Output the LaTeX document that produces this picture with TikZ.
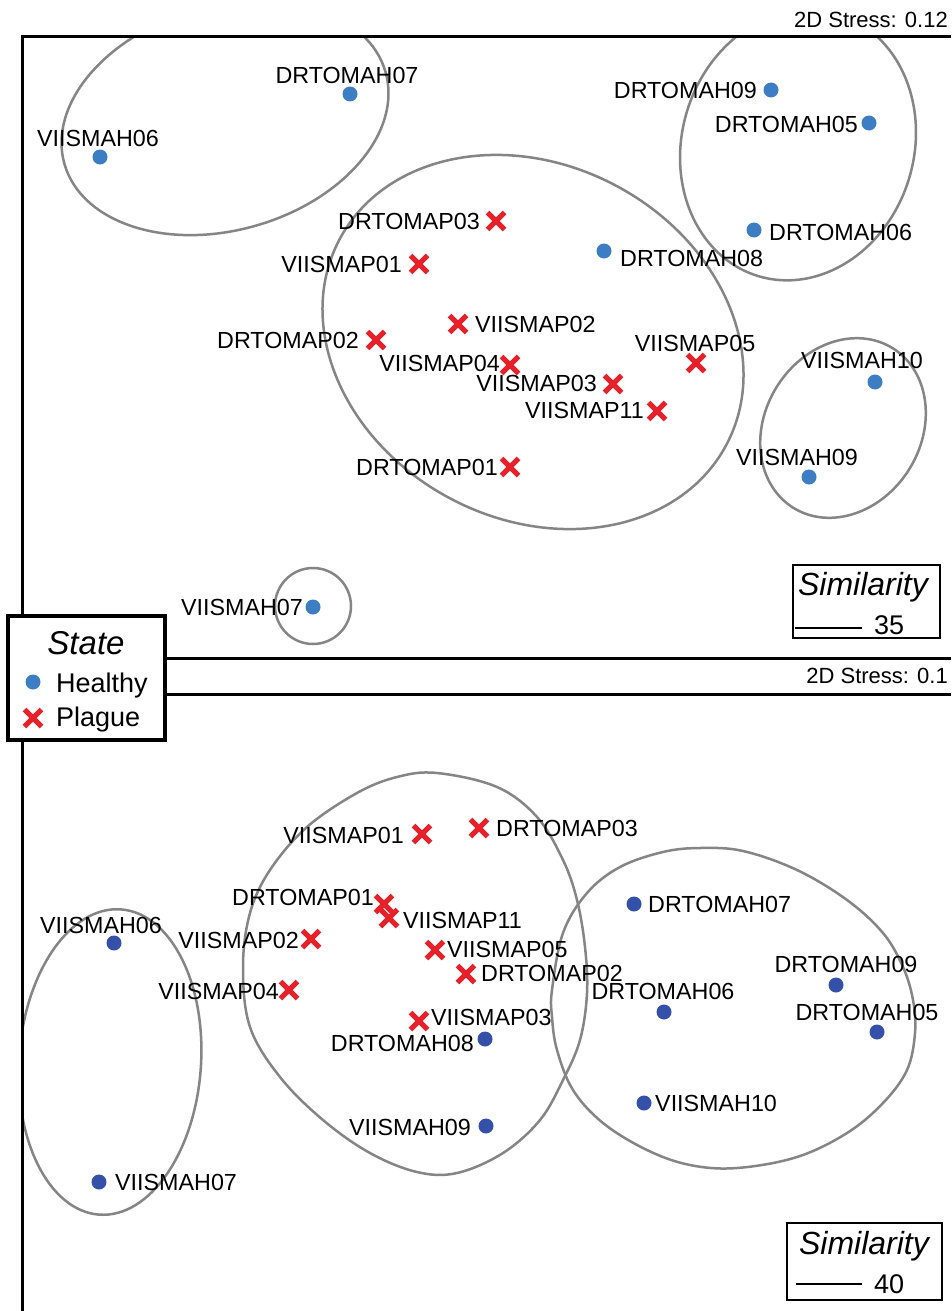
\documentclass[tikz,border=0pt]{standalone}
\usepackage{fontspec}
\setmainfont{Liberation Sans}
\usetikzlibrary{shapes.misc}
\definecolor{hblue}{HTML}{3D7DC4}
\definecolor{dblue}{HTML}{3550A8}
\definecolor{pred}{HTML}{E8202A}
\definecolor{cgray}{HTML}{858585}
\begin{document}
\begin{tikzpicture}[x=1pt,y=-1pt,
  lab/.style={inner sep=0pt, font=\fontsize{23.3}{23.3}\selectfont},
  hA/.style={circle, fill=hblue, inner sep=0pt, minimum size=15pt},
  hB/.style={circle, fill=dblue, inner sep=0pt, minimum size=15pt},
  pl/.style={cross out, draw=pred, line width=5pt, inner sep=0pt, minimum size=12pt},
  contour/.style={draw=cgray, line width=2.5pt},
  frame/.style={line width=3pt, line join=miter},
  stress/.style={inner sep=0pt, anchor=east, font=\fontsize{22}{22}\selectfont},
  simtxt/.style={inner sep=0pt, anchor=base, font=\fontsize{32}{32}\selectfont\itshape},
  numtxt/.style={inner sep=0pt, anchor=base west, font=\fontsize{27}{27}\selectfont},
]
\useasboundingbox (0,0) rectangle (951,1311);
\fill[white] (0,0) rectangle (951,1311);

% ---------- contours, top panel ----------
\begin{scope}
  \clip (22,37) rectangle (951,658);
  \draw[contour, rotate around={16:(225,118)}] (225,118) ellipse [x radius=167, y radius=112];
  \draw[contour, rotate around={-17:(798,145)}] (798,145) ellipse [x radius=116, y radius=137];
  \draw[contour, rotate around={-28:(533,342)}] (533,342) ellipse [x radius=219, y radius=177];
  \draw[contour, rotate around={58:(843,428)}] (843,428) ellipse [x radius=94, y radius=78];
  \draw[contour] (313,606) circle [radius=38];
\end{scope}

% ---------- contours, bottom panel ----------
\begin{scope}
  \clip (22,694) rectangle (951,1311);
  \draw[contour, rotate around={-4:(110,1062)}] (110,1062) ellipse [x radius=91, y radius=153];
  \draw[contour] plot[smooth cycle, tension=0.6] coordinates {
    (437,773) (497,787) (537,817) (563,860) (577,900) (585,947) (587,993)
    (580,1040) (563,1080) (540,1120) (503,1153) (457,1173) (417,1172)
    (370,1153) (323,1120) (280,1077) (250,1027) (243,967) (250,913)
    (270,870) (307,827) (357,793) (397,777)};
  \draw[contour] plot[smooth cycle, tension=0.6] coordinates {
    (552,990) (563,933) (587,893) (620,867) (663,852) (700,848) (743,851)
    (797,870) (847,900) (883,933) (903,967) (913,1000) (915,1033) (907,1070)
    (883,1103) (847,1133) (797,1157) (737,1168) (690,1165) (647,1150)
    (603,1123) (573,1090) (557,1050) (552,1017)};
\end{scope}

% ---------- frames ----------
\draw[frame] (951,37) -- (22,37) -- (22,658) -- (951,658);
\draw[frame] (951,694) -- (22,694) -- (22,1311);
\node[stress] (s1) at (948,20) {2D Stress: 0.12};
\node[stress] (s2) at (948,676) {2D Stress: 0.1};

% ---------- top panel points ----------
\node[hA] (t1) at (100,157) {};  \node[lab] (lt1) at (98,138) {VIISMAH06};
\node[hA] (t2) at (350,94) {};   \node[lab] (lt2) at (347,75) {DRTOMAH07};
\node[hA] (t3) at (771,90) {};   \node[lab, anchor=east] (lt3) at (757,90) {DRTOMAH09};
\node[hA] (t4) at (869,123) {};  \node[lab, anchor=east] (lt4) at (858,124) {DRTOMAH05};
\node[hA] (t5) at (754,230) {};  \node[lab, anchor=west] (lt5) at (769,232) {DRTOMAH06};
\node[hA] (t6) at (604,251) {};  \node[lab, anchor=west] (lt6) at (620,258) {DRTOMAH08};
\node[pl] (t7) at (496,221) {};  \node[lab, anchor=east] (lt7) at (480,221) {DRTOMAP03};
\node[pl] (t8) at (419,264) {};  \node[lab, anchor=east] (lt8) at (402,264) {VIISMAP01};
\node[pl] (t9) at (458,324) {};  \node[lab, anchor=west] (lt9) at (475,324) {VIISMAP02};
\node[pl] (t10) at (376,340) {}; \node[lab, anchor=east] (lt10) at (359,340) {DRTOMAP02};
\node[pl] (t11) at (510,365) {}; \node[lab, anchor=east] (lt11) at (500,363) {VIISMAP04};
\node[pl] (t12) at (696,363) {}; \node[lab] (lt12) at (695,343) {VIISMAP05};
\node[pl] (t13) at (613,384) {}; \node[lab, anchor=east] (lt13) at (597,383) {VIISMAP03};
\node[pl] (t14) at (657,411) {}; \node[lab, anchor=east] (lt14) at (644,410) {VIISMAP11};
\node[hA] (t15) at (875,382) {}; \node[lab] (lt15) at (862,360) {VIISMAH10};
\node[hA] (t16) at (809,477) {}; \node[lab] (lt16) at (797,457) {VIISMAH09};
\node[pl] (t17) at (510,467) {}; \node[lab, anchor=east] (lt17) at (498,467) {DRTOMAP01};
\node[hA] (t18) at (313,607) {}; \node[lab, anchor=east] (lt18) at (303,607) {VIISMAH07};

% ---------- bottom panel points ----------
\node[pl] (b1) at (422,834) {};  \node[lab, anchor=east] (lb1) at (404,835) {VIISMAP01};
\node[pl] (b2) at (479,828) {};  \node[lab, anchor=west] (lb2) at (496,828) {DRTOMAP03};
\node[pl] (b3) at (384,904) {};  \node[lab, anchor=east] (lb3) at (374,897) {DRTOMAP01};
\node[pl] (b4) at (389,918) {};  \node[lab, anchor=west] (lb4) at (403,920) {VIISMAP11};
\node[pl] (b5) at (311,939) {};  \node[lab, anchor=east] (lb5) at (299,940) {VIISMAP02};
\node[pl] (b6) at (435,950) {};  \node[lab, anchor=west] (lb6) at (447,949) {VIISMAP05};
\node[pl] (b7) at (466,974) {};  \node[lab, anchor=west] (lb7) at (481,973) {DRTOMAP02};
\node[pl] (b8) at (289,990) {};  \node[lab, anchor=east] (lb8) at (279,991) {VIISMAP04};
\node[pl] (b9) at (419,1021) {}; \node[lab, anchor=west] (lb9) at (431,1017) {VIISMAP03};
\node[hB] (b10) at (485,1039) {}; \node[lab, anchor=east] (lb10) at (474,1043) {DRTOMAH08};
\node[hB] (b11) at (486,1126) {}; \node[lab, anchor=east] (lb11) at (471,1127) {VIISMAH09};
\node[hB] (b12) at (114,943) {};  \node[lab] (lb12) at (101,925) {VIISMAH06};
\node[hB] (b13) at (99,1182) {};  \node[lab, anchor=west] (lb13) at (115,1182) {VIISMAH07};
\node[hB] (b14) at (634,904) {};  \node[lab, anchor=west] (lb14) at (648,904) {DRTOMAH07};
\node[hB] (b15) at (664,1012) {}; \node[lab] (lb15) at (663,991) {DRTOMAH06};
\node[hB] (b16) at (836,985) {};  \node[lab] (lb16) at (846,964) {DRTOMAH09};
\node[hB] (b17) at (877,1032) {}; \node[lab] (lb17) at (867,1012) {DRTOMAH05};
\node[hB] (b18) at (644,1103) {}; \node[lab, anchor=west] (lb18) at (655,1103) {VIISMAH10};

% ---------- similarity boxes ----------
\draw[line width=2.5pt, fill=white] (793,565) rectangle (940,638);
\node[simtxt] (sim1) at (863,595) {Similarity};
\coordinate (sl1a) at (795,628); \coordinate (sl1b) at (862,628);
\draw[line width=2pt] (sl1a) -- (sl1b);
\node[numtxt] (n35) at (874,634) {35};

\draw[line width=2.5pt, fill=white] (787,1223) rectangle (942,1300);
\node[simtxt] (sim2) at (864,1254) {Similarity};
\coordinate (sl2a) at (796,1284); \coordinate (sl2b) at (862,1284);
\draw[line width=2pt] (sl2a) -- (sl2b);
\node[numtxt] (n40) at (874,1293) {40};

% ---------- legend ----------
\draw[line width=3.5pt, fill=white] (8,616) rectangle (165,740);
\node[inner sep=0pt, anchor=base, font=\fontsize{33}{33}\selectfont\itshape] (st) at (86,654) {State};
\node[hA] (lgh) at (33,682) {};
\node[inner sep=0pt, anchor=base west, font=\fontsize{27}{27}\selectfont] (lght) at (56,692) {Healthy};
\node[pl] (lgp) at (33,718) {};
\node[inner sep=0pt, anchor=base west, font=\fontsize{27}{27}\selectfont] (lgpt) at (56,726) {Plague};
\end{tikzpicture}
\end{document}
